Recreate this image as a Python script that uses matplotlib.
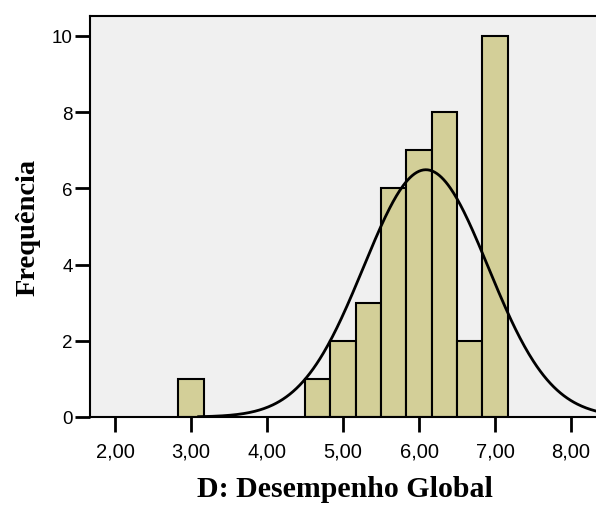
import numpy as np
import matplotlib.pyplot as plt

# histogram bins (width 1/3) and counts
bin_left = [2.8333, 4.5, 4.8333, 5.1667, 5.5, 5.8333, 6.1667, 6.5, 6.8333]
counts = [1, 1, 2, 3, 6, 7, 8, 2, 10]
bin_width = 1 / 3
mean = 6.09
std = 0.82
n = sum(counts)

xticks = [2, 3, 4, 5, 6, 7, 8]
xticklabels = ["2,00", "3,00", "4,00", "5,00", "6,00", "7,00", "8,00"]
yticks = [0, 2, 4, 6, 8, 10]

fig = plt.figure(figsize=(5.96, 5.06), dpi=100)
ax = fig.add_axes([90 / 596, 88 / 506, 519 / 596, 401 / 506])
ax.set_facecolor("#f0f0f0")

ax.bar(bin_left, counts, width=bin_width, align="edge",
       color="#d3cf98", edgecolor="black", linewidth=1.5, zorder=2)

xs = np.linspace(3.1, 9.0, 400)
ys = n * bin_width / (std * np.sqrt(2 * np.pi)) * np.exp(-0.5 * ((xs - mean) / std) ** 2)
ax.plot(xs, ys, color="black", linewidth=2, zorder=3)

ax.set_xlim(1.67, 8.5)
ax.set_ylim(0, 10.52)
ax.set_xticks(xticks)
ax.set_xticklabels(xticklabels, fontfamily="Liberation Sans", fontsize=14.5)
ax.set_yticks(yticks)
ax.set_yticklabels([str(v) for v in yticks], fontfamily="Liberation Sans", fontsize=13.5)
ax.tick_params(axis="x", length=11, width=2, pad=7)
ax.tick_params(axis="y", length=10.5, width=2, pad=2)

for s in ax.spines.values():
    s.set_linewidth(1.5)

ax.set_xlabel("D: Desempenho Global", fontfamily="Liberation Serif",
              fontweight="bold", fontsize=21.5)
ax.set_ylabel("Frequência", fontfamily="Liberation Serif",
              fontweight="bold", fontsize=20.5)
ax.xaxis.label.set_va("center")
ax.yaxis.label.set_va("center")
ax.xaxis.set_label_coords(0.491, -0.178)
ax.yaxis.set_label_coords(-0.119, 0.474)

plt.savefig("out.png", dpi=100)
